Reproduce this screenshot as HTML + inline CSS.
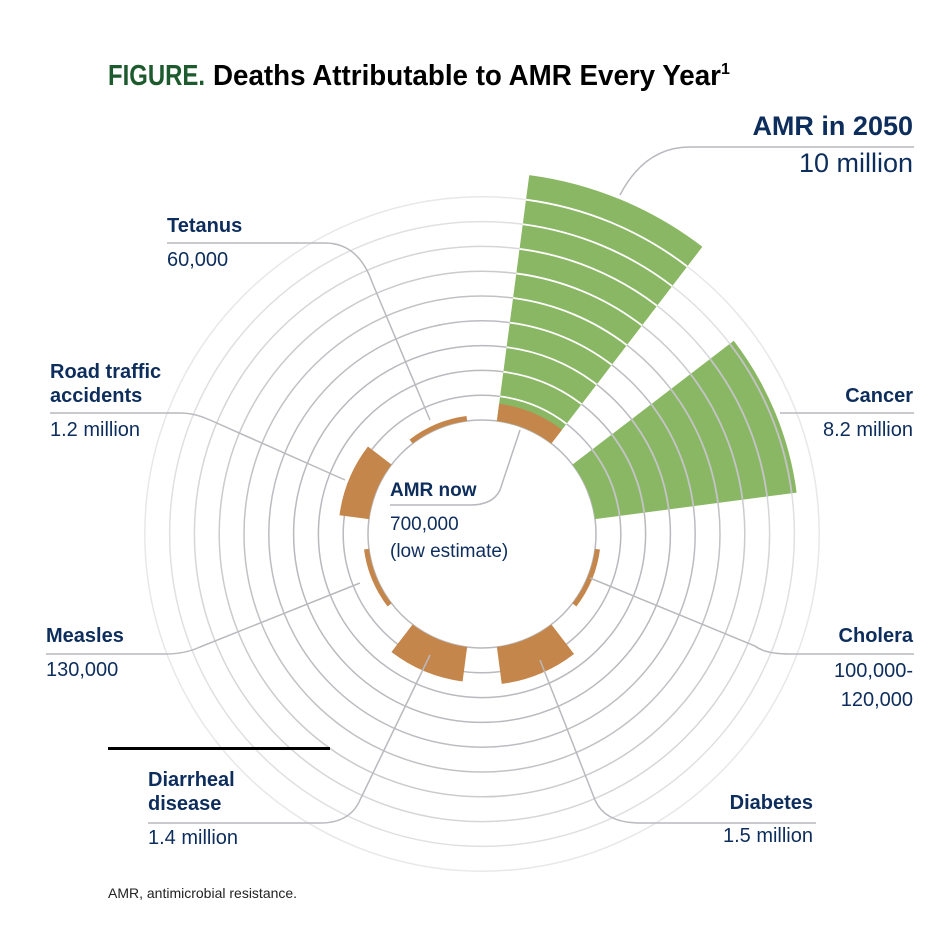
<!DOCTYPE html>
<html><head><meta charset="utf-8"><style>
html,body{margin:0;padding:0;background:#fff}
svg{display:block}
.lab{font-family:"Liberation Sans",sans-serif;font-weight:bold;font-size:20px;fill:#0d2d5c}
.val{font-family:"Liberation Sans",sans-serif;font-size:20px;fill:#0d2d5c}
.lead{fill:none;stroke:#b9b9be;stroke-width:1.5}
</style></head><body>
<svg id="chart" width="950" height="934" viewBox="0 0 950 934">
<text x="108" y="85" font-family="'Liberation Sans Narrow','Liberation Sans',sans-serif" font-weight="bold" font-size="29" fill="#1d5a2e" textLength="97" lengthAdjust="spacingAndGlyphs">FIGURE.</text>
<text x="213" y="85" font-family="'Liberation Sans Narrow','Liberation Sans',sans-serif" font-weight="bold" font-size="29" fill="#000" textLength="508" lengthAdjust="spacingAndGlyphs">Deaths Attributable to AMR Every Year</text>
<text x="721" y="74" font-family="'Liberation Sans',sans-serif" font-weight="bold" font-size="16" fill="#000">1</text>
<g id="rings"></g>
<g id="wedges"></g>
<g id="rings-over"></g>
<g id="leaders">
<path class="lead" d="M620,195 Q645,147 690,147 L914,147"/>
<path class="lead" d="M780,413 L914,413"/>
<path class="lead" d="M590,578 L755,646 Q765,654 790,654 L914,654"/>
<path class="lead" d="M540,660 L595,800 Q605,823 640,823 L816,823"/>
<path class="lead" d="M430,655 L360,800 Q350,823 320,823 L148,823"/>
<path class="lead" d="M360,583 L200,647 Q185,654 165,654 L46,654"/>
<path class="lead" d="M345,480 L210,420 Q195,413 180,413 L50,413"/>
<path class="lead" d="M430,420 L372,282 Q358,243 325,243 L167,243"/>
<path class="lead" d="M520,430 L500,490 Q493,505 470,505 L390,505"/>
</g>
<text class="lab" x="913" y="135" text-anchor="end" style="font-size:27px">AMR in 2050</text>
<text class="val" x="913" y="172" text-anchor="end" style="font-size:27px">10 million</text>
<text class="lab" x="913" y="402" text-anchor="end">Cancer</text>
<text class="val" x="913" y="436" text-anchor="end">8.2 million</text>
<text class="lab" x="913" y="642" text-anchor="end">Cholera</text>
<text class="val" x="913" y="677" text-anchor="end">100,000-</text>
<text class="val" x="913" y="706" text-anchor="end">120,000</text>
<text class="lab" x="813" y="809" text-anchor="end">Diabetes</text>
<text class="val" x="813" y="842" text-anchor="end">1.5 million</text>
<text class="lab" x="148" y="786">Diarrheal</text>
<text class="lab" x="148" y="810">disease</text>
<text class="val" x="148" y="844">1.4 million</text>
<text class="lab" x="46" y="642">Measles</text>
<text class="val" x="46" y="676">130,000</text>
<text class="lab" x="50" y="378">Road traffic</text>
<text class="lab" x="50" y="402">accidents</text>
<text class="val" x="50" y="436">1.2 million</text>
<text class="lab" x="167" y="232">Tetanus</text>
<text class="val" x="167" y="266">60,000</text>
<text class="lab" x="390" y="496" style="font-size:19px">AMR now</text>
<text class="val" x="390" y="530" style="font-size:19px">700,000</text>
<text class="val" x="390" y="557" style="font-size:19px">(low estimate)</text>
<rect x="108" y="747" width="222" height="3" fill="#000"/>
<text x="108" y="898" font-family="'Liberation Sans',sans-serif" font-size="14" fill="#222">AMR, antimicrobial resistance.</text>
</svg>
<script>
const categories = ["AMR in 2050","Cancer","Cholera","Diabetes","Diarrheal disease","Measles","Road traffic accidents","Tetanus"];
const values = [10, 8.2, 0.11, 1.5, 1.4, 0.13, 1.2, 0.06];
const amrNow = [0.7];
const centerAngles = [22.5, 67.5, 112.5, 157.5, 202.5, 247.5, 292.5, 337.5];
const ringValues = [1,2,3,4,5,6,7,8,9];

const NS = "http://www.w3.org/2000/svg";
const CX = 482, CY = 534, R0 = 114, PER = 24.8, HALF = 15, MINT = 5;
const ringColors = ['#b9b9be','#b9b9be','#b9b9be','#bcbcc1','#c2c2c6','#cbcbce','#d6d6d9','#e0e0e2','#e8e8ea'];
function rScale(v){ return R0 + v*PER; }
function pt(a, r){ const t=a*Math.PI/180; return [CX + r*Math.sin(t), CY - r*Math.cos(t)]; }
function sector(a0,a1,r0,r1){
  const p1=pt(a0,r0),p2=pt(a0,r1),p3=pt(a1,r1),p4=pt(a1,r0);
  return `M${p1}L${p2}A${r1},${r1} 0 0 1 ${p3}L${p4}A${r0},${r0} 0 0 0 ${p1}Z`;
}
const rings = document.getElementById('rings');
const over = document.getElementById('rings-over');
const c0 = document.createElementNS(NS,'circle');
c0.setAttribute('cx',CX);c0.setAttribute('cy',CY);c0.setAttribute('r',R0);
c0.setAttribute('fill','none');c0.setAttribute('stroke','#b9b9be');c0.setAttribute('stroke-width','1.5');


rings.appendChild(c0);
ringValues.forEach((v,k)=>{
  const c=document.createElementNS(NS,'circle');
  c.setAttribute('cx',CX);c.setAttribute('cy',CY);c.setAttribute('r',rScale(v));
  c.setAttribute('fill','none');c.setAttribute('stroke',ringColors[k]);c.setAttribute('stroke-width','1.5');
  
  
  rings.appendChild(c);
});
const wg = document.getElementById('wedges');
categories.forEach((cat,i)=>{
  const a=centerAngles[i], v=values[i];
  const big = v >= 2;
  const p=document.createElementNS(NS,'path');
  if(big){
    p.setAttribute('d',sector(a-HALF,a+HALF,R0,rScale(v)));
    p.setAttribute('fill','#8ab764');
  } else {
    const t=Math.max(MINT, v*PER);
    p.setAttribute('d',sector(a-HALF,a+HALF,R0,R0+t));
    p.setAttribute('fill','#c4864b');
  }
  
  
  wg.appendChild(p);
  if(big){
    ringValues.filter(rv=>rv<v).forEach(rv=>{
      const r=rScale(rv), s=pt(a-HALF,r), e=pt(a+HALF,r);
      const l=document.createElementNS(NS,'path');
      l.setAttribute('d',`M${s}A${r},${r} 0 0 1 ${e}`);
      l.setAttribute('fill','none');
      l.setAttribute('stroke', i===0?'#ffffff':'#c4c4c8');
      l.setAttribute('stroke-width','1.8');
      
      
      over.appendChild(l);
    });
  }
});
const now=document.createElementNS(NS,'path');
now.setAttribute('d',sector(centerAngles[0]-HALF,centerAngles[0]+HALF,R0,rScale(amrNow[0])));
now.setAttribute('fill','#c4864b');


over.appendChild(now);
</script>
</body></html>
